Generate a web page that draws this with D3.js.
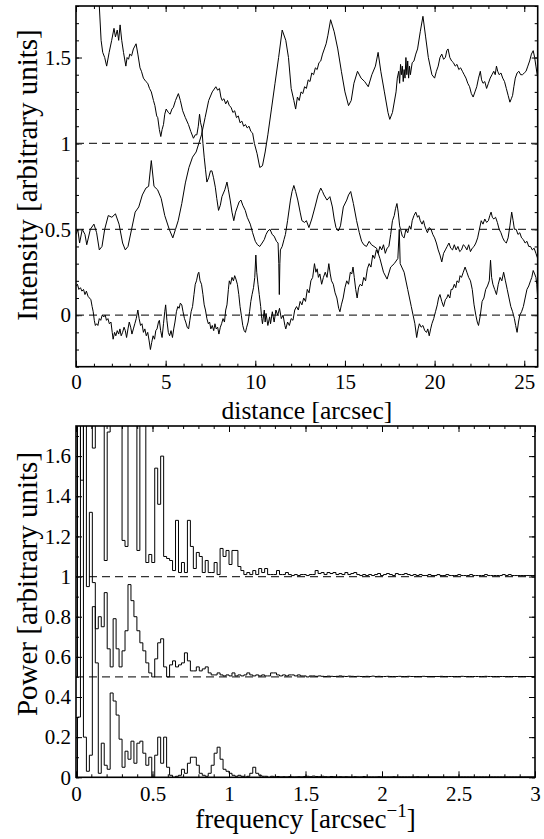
<!DOCTYPE html>
<html><head><meta charset="utf-8">
<script src="https://cdn.jsdelivr.net/npm/d3@7"></script>
<style>
html,body{margin:0;padding:0;background:#fff;}
svg{display:block;}
</style></head>
<body>
<svg id="chart" width="544" height="839"></svg>
<script>
// ---------------- DATA ----------------
// Top panel: intensity profiles, [distance (arcsec), intensity]
const traceStartHigh = [
[1.2,1.95],[1.3,1.8],[1.4,1.6],[1.49,1.53],[1.6,1.5],[1.71,1.45],[1.85,1.53],[1.99,1.6],[2.12,1.67],[2.2,1.62],
[2.3,1.66],[2.38,1.6],[2.46,1.69],[2.55,1.6],[2.65,1.53],[2.78,1.45],[2.85,1.5],[2.93,1.49],[3.0,1.52],[3.1,1.51],
[3.2,1.55],[3.35,1.58],[3.45,1.52],[3.57,1.44],[3.65,1.42],[3.76,1.38],[3.9,1.36],[4.0,1.35],[4.1,1.32],[4.2,1.3],
[4.32,1.25],[4.4,1.22],[4.5,1.16],[4.56,1.15],[4.65,1.08],[4.73,1.04],[4.8,1.08],[4.88,1.11],[4.95,1.17],[5.03,1.2],
[5.15,1.18],[5.25,1.17],[5.35,1.2],[5.43,1.21],[5.55,1.25],[5.71,1.29],[5.82,1.25],[5.95,1.19],[6.1,1.15],[6.27,1.11],
[6.4,1.07],[6.55,1.03],[6.65,1.05],[6.74,1.05],[6.82,1.1],[6.89,1.17],[6.95,1.12],[7.02,1.09],[7.08,1.0],[7.15,0.92],
[7.22,0.85],[7.3,0.775],[7.4,0.8],[7.5,0.84],[7.58,0.84],[7.67,0.8],[7.77,0.745],[7.85,0.68],[7.95,0.61],[8.05,0.64],
[8.14,0.69],[8.3,0.73],[8.42,0.775],[8.5,0.73],[8.6,0.67],[8.7,0.6],[8.8,0.55],[8.9,0.6],[9.0,0.63],[9.1,0.66],
[9.2,0.67],[9.3,0.64],[9.44,0.61],[9.55,0.57],[9.72,0.53],[9.85,0.48],[10.0,0.43],[10.12,0.41],[10.25,0.4],[10.38,0.42],
[10.5,0.44],[10.6,0.47],[10.7,0.49],[10.82,0.5],[10.94,0.47],[11.05,0.46],[11.18,0.43],[11.27,0.42],[11.31,0.3],[11.34,0.12],
[11.37,0.3],[11.4,0.38],[11.5,0.4],[11.6,0.44],[11.68,0.47],[11.8,0.55],[11.96,0.67],[12.05,0.72],[12.15,0.755],[12.25,0.72],
[12.37,0.67],[12.5,0.6],[12.6,0.55],[12.75,0.54],[12.85,0.55],[12.99,0.51],[13.15,0.56],[13.33,0.63],[13.5,0.7],[13.65,0.74],
[13.75,0.72],[13.83,0.7],[14.0,0.67],[14.16,0.69],[14.3,0.63],[14.4,0.56],[14.5,0.51],[14.63,0.49],[14.75,0.52],[14.91,0.63],
[15.1,0.67],[15.2,0.7],[15.32,0.72],[15.47,0.65],[15.65,0.55],[15.8,0.48],[15.93,0.43],[16.05,0.41],[16.2,0.4],[16.35,0.43],
[16.48,0.41],[16.62,0.4],[16.76,0.39],[16.95,0.33],[17.15,0.25],[17.35,0.21],[17.55,0.28],[17.75,0.3],[17.95,0.33],[18.03,0.5],
[18.08,0.3],[18.3,0.25],[18.5,0.15],[18.7,0.05],[18.9,-0.05],[19.0,-0.13],[19.08,-0.08],[19.15,-0.05],[19.25,-0.07],[19.35,-0.06],
[19.45,-0.09],[19.55,-0.1],[19.62,-0.08],[19.7,-0.12],[19.78,-0.08],[19.85,-0.05],[19.95,-0.02],[20.05,0.02],[20.15,0.06],[20.22,0.1],
[20.3,0.12],[20.4,0.08],[20.5,0.05],[20.6,0.09],[20.68,0.1],[20.75,0.12],[20.85,0.1],[20.92,0.15],[21.0,0.15],[21.1,0.18],
[21.18,0.16],[21.25,0.2],[21.35,0.19],[21.42,0.23],[21.5,0.22],[21.6,0.25],[21.7,0.28],[21.8,0.25],[21.9,0.22],[22.0,0.2],
[22.1,0.15],[22.2,0.06],[22.3,0.0],[22.38,-0.04],[22.45,-0.06],[22.55,0.0],[22.65,0.08],[22.75,0.1],[22.85,0.15],[22.95,0.17],
[23.05,0.2],[23.12,0.32],[23.18,0.22],[23.25,0.18],[23.35,0.15],[23.45,0.12],[23.55,0.18],[23.65,0.22],[23.75,0.2],[23.85,0.25],
[23.95,0.2],[24.05,0.15],[24.15,0.1],[24.25,0.05],[24.35,0.02],[24.45,-0.02],[24.52,-0.06],[24.6,-0.1],[24.68,-0.04],[24.75,0.0],
[24.85,0.02],[24.95,0.05],[25.05,0.1],[25.15,0.15],[25.25,0.17],[25.35,0.2],[25.42,0.22],[25.5,0.26],[25.58,0.24],[25.65,0.22],
[25.7,0.18],[25.75,0.1]];

const traceStartMid = [
[0,0.47],[0.1,0.5],[0.2,0.42],[0.35,0.5],[0.5,0.47],[0.6,0.41],[0.8,0.5],[1.0,0.53],[1.15,0.48],[1.3,0.38],
[1.45,0.4],[1.6,0.5],[1.8,0.58],[2.0,0.57],[2.2,0.59],[2.4,0.53],[2.6,0.42],[2.75,0.38],[2.9,0.4],[3.1,0.5],
[3.3,0.6],[3.5,0.63],[3.7,0.7],[3.9,0.74],[4.05,0.75],[4.2,0.9],[4.35,0.75],[4.55,0.73],[4.75,0.68],[4.95,0.58],
[5.2,0.5],[5.4,0.45],[5.55,0.5],[5.7,0.55],[5.9,0.65],[6.1,0.77],[6.3,0.86],[6.5,0.92],[6.7,0.95],[6.85,1.0],
[7.0,1.05],[7.2,1.15],[7.4,1.25],[7.6,1.3],[7.8,1.33],[7.9,1.31],[8.0,1.32],[8.08,1.27],[8.15,1.25],[8.25,1.26],
[8.35,1.23],[8.45,1.25],[8.55,1.22],[8.65,1.21],[8.75,1.18],[8.85,1.19],[8.95,1.15],[9.05,1.16],[9.15,1.12],[9.25,1.13],
[9.35,1.1],[9.45,1.11],[9.55,1.09],[9.65,1.1],[9.75,1.07],[9.85,1.06],[9.95,1.0],[10.1,0.94],[10.25,0.86],[10.4,0.87],
[10.55,0.95],[10.7,1.05],[10.9,1.2],[11.1,1.35],[11.3,1.5],[11.5,1.66],[11.7,1.6],[11.85,1.5],[12.0,1.32],[12.15,1.25],
[12.25,1.2],[12.35,1.27],[12.45,1.25],[12.55,1.3],[12.65,1.29],[12.75,1.33],[12.85,1.32],[12.95,1.37],[13.05,1.36],[13.15,1.41],
[13.25,1.4],[13.35,1.44],[13.45,1.43],[13.55,1.47],[13.65,1.48],[13.75,1.52],[13.85,1.55],[13.95,1.58],[14.05,1.63],[14.2,1.72],
[14.4,1.65],[14.6,1.55],[14.8,1.42],[15.0,1.3],[15.2,1.22],[15.35,1.25],[15.5,1.35],[15.7,1.42],[15.9,1.38],[16.1,1.36],
[16.3,1.33],[16.5,1.4],[16.7,1.45],[16.85,1.53],[17.0,1.42],[17.2,1.3],[17.4,1.18],[17.5,1.14],[17.65,1.18],[17.85,1.3],
[17.92,1.38],[18.0,1.42],[18.05,1.35],[18.1,1.46],[18.15,1.4],[18.2,1.45],[18.25,1.36],[18.3,1.43],[18.35,1.38],[18.4,1.5],
[18.45,1.4],[18.5,1.48],[18.55,1.38],[18.6,1.45],[18.65,1.4],[18.75,1.47],[18.85,1.48],[18.95,1.52],[19.05,1.55],[19.2,1.65],
[19.35,1.74],[19.5,1.62],[19.65,1.5],[19.85,1.4],[20.0,1.38],[20.1,1.42],[20.2,1.45],[20.3,1.5],[20.4,1.52],[20.5,1.49],
[20.6,1.5],[20.68,1.54],[20.75,1.55],[20.85,1.5],[20.95,1.48],[21.05,1.47],[21.15,1.45],[21.25,1.46],[21.35,1.43],[21.45,1.44],
[21.55,1.42],[21.65,1.4],[21.75,1.38],[21.85,1.35],[21.95,1.33],[22.05,1.29],[22.15,1.27],[22.25,1.3],[22.35,1.33],[22.45,1.38],
[22.55,1.42],[22.62,1.37],[22.7,1.35],[22.8,1.36],[22.9,1.32],[23.0,1.35],[23.1,1.38],[23.2,1.4],[23.3,1.42],[23.38,1.4],
[23.45,1.45],[23.52,1.42],[23.6,1.4],[23.7,1.41],[23.8,1.38],[23.9,1.36],[24.0,1.32],[24.1,1.28],[24.2,1.24],[24.28,1.26],
[24.35,1.28],[24.42,1.33],[24.5,1.38],[24.6,1.41],[24.7,1.42],[24.8,1.4],[24.9,1.4],[25.0,1.41],[25.1,1.42],[25.2,1.45],
[25.3,1.48],[25.4,1.52],[25.5,1.54],[25.58,1.5],[25.65,1.45],[25.75,1.38]];

const traceStartLow = [
[0,0.17],[0.08,0.18],[0.16,0.15],[0.25,0.16],[0.33,0.14],[0.42,0.15],[0.5,0.12],[0.58,0.14],[0.67,0.11],[0.75,0.1],
[0.83,0.09],[0.9,0.05],[0.96,0.02],[1.02,-0.03],[1.08,-0.06],[1.15,-0.05],[1.22,-0.06],[1.3,-0.02],[1.38,-0.03],[1.46,0.0],
[1.55,-0.01],[1.63,0.0],[1.7,-0.03],[1.78,-0.02],[1.86,-0.05],[1.95,-0.04],[2.02,-0.1],[2.07,-0.14],[2.15,-0.1],[2.22,-0.12],
[2.3,-0.09],[2.38,-0.11],[2.45,-0.08],[2.52,-0.12],[2.6,-0.1],[2.68,-0.07],[2.75,-0.09],[2.82,-0.13],[2.9,-0.08],[2.97,-0.04],
[3.05,-0.07],[3.12,-0.11],[3.2,-0.08],[3.28,-0.05],[3.36,-0.02],[3.45,0.03],[3.52,-0.02],[3.6,-0.06],[3.68,-0.05],[3.76,-0.1],
[3.84,-0.08],[3.92,-0.12],[4.0,-0.1],[4.08,-0.15],[4.15,-0.2],[4.22,-0.16],[4.3,-0.12],[4.38,-0.14],[4.45,-0.09],[4.52,-0.08],
[4.6,-0.04],[4.65,-0.03],[4.72,-0.09],[4.8,-0.13],[4.88,-0.05],[4.95,0.02],[5.0,0.06],[5.07,-0.03],[5.15,-0.1],[5.22,-0.12],
[5.3,-0.09],[5.38,-0.13],[5.45,-0.08],[5.52,-0.04],[5.6,0.02],[5.68,0.05],[5.75,0.04],[5.82,0.07],[5.9,0.06],[5.97,0.02],
[6.05,-0.02],[6.12,-0.04],[6.2,-0.07],[6.28,-0.08],[6.35,-0.03],[6.42,0.02],[6.5,0.05],[6.58,0.12],[6.65,0.18],[6.72,0.2],
[6.8,0.24],[6.85,0.25],[6.92,0.2],[7.0,0.18],[7.08,0.12],[7.15,0.06],[7.22,0.03],[7.3,-0.02],[7.38,-0.05],[7.45,-0.04],
[7.52,-0.08],[7.6,-0.06],[7.68,-0.09],[7.75,-0.05],[7.82,-0.08],[7.9,-0.07],[7.97,-0.11],[8.05,-0.07],[8.12,-0.05],[8.2,-0.02],
[8.28,-0.04],[8.35,0.03],[8.42,0.06],[8.5,0.15],[8.55,0.2],[8.62,0.18],[8.7,0.22],[8.78,0.2],[8.85,0.23],[8.92,0.21],
[9.0,0.18],[9.08,0.12],[9.15,0.05],[9.22,0.0],[9.3,-0.06],[9.38,-0.09],[9.45,-0.1],[9.52,-0.07],[9.6,-0.04],[9.68,0.02],
[9.75,0.08],[9.82,0.12],[9.9,0.16],[9.97,0.22],[10.03,0.35],[10.08,0.25],[10.15,0.18],[10.22,0.12],[10.3,0.05],[10.36,-0.02],
[10.4,-0.05],[10.5,0.03],[10.55,-0.04],[10.6,0.01],[10.7,-0.06],[10.8,-0.01],[10.85,-0.05],[10.95,0.02],[11.05,-0.04],[11.15,0.03],
[11.25,0.0],[11.35,0.04],[11.45,-0.02],[11.55,0.0],[11.65,-0.06],[11.7,-0.08],[11.8,-0.04],[11.9,-0.06],[12.0,-0.02],[12.1,-0.03],
[12.2,0.03],[12.3,0.05],[12.4,0.03],[12.5,0.08],[12.6,0.06],[12.7,0.1],[12.8,0.08],[12.9,0.15],[13.0,0.13],[13.1,0.2],
[13.2,0.22],[13.3,0.3],[13.38,0.25],[13.45,0.27],[13.52,0.22],[13.6,0.24],[13.7,0.18],[13.8,0.22],[13.9,0.25],[14.0,0.22],
[14.1,0.3],[14.18,0.24],[14.25,0.2],[14.35,0.18],[14.45,0.13],[14.55,0.1],[14.65,0.04],[14.72,0.02],[14.8,0.06],[14.9,0.1],
[15.0,0.16],[15.1,0.2],[15.2,0.18],[15.3,0.25],[15.38,0.24],[15.45,0.28],[15.52,0.22],[15.6,0.15],[15.68,0.1],[15.76,0.16],
[15.85,0.18],[15.95,0.17],[16.05,0.22],[16.15,0.2],[16.25,0.27],[16.35,0.3],[16.45,0.28],[16.55,0.35],[16.65,0.33],[16.75,0.38],
[16.85,0.36],[16.95,0.4],[17.05,0.38],[17.15,0.41],[17.25,0.36],[17.35,0.39],[17.45,0.4],[17.55,0.47],[17.65,0.55],[17.75,0.58],
[17.82,0.62],[17.9,0.65],[17.97,0.6],[18.05,0.52],[18.1,0.5],[18.2,0.46],[18.3,0.45],[18.4,0.5],[18.5,0.48],[18.6,0.52],
[18.68,0.5],[18.75,0.55],[18.85,0.58],[18.95,0.6],[19.05,0.57],[19.12,0.58],[19.2,0.55],[19.3,0.53],[19.38,0.55],[19.45,0.52],
[19.52,0.5],[19.6,0.48],[19.7,0.51],[19.8,0.5],[19.9,0.47],[20.0,0.45],[20.1,0.42],[20.2,0.38],[20.3,0.35],[20.4,0.31],
[20.5,0.36],[20.6,0.38],[20.7,0.4],[20.8,0.42],[20.9,0.39],[21.0,0.38],[21.1,0.41],[21.2,0.38],[21.3,0.4],[21.4,0.37],
[21.5,0.38],[21.6,0.41],[21.7,0.4],[21.8,0.38],[21.9,0.41],[22.0,0.37],[22.1,0.39],[22.2,0.4],[22.3,0.42],[22.4,0.45],
[22.5,0.5],[22.6,0.55],[22.7,0.53],[22.8,0.56],[22.9,0.54],[23.0,0.55],[23.08,0.58],[23.15,0.6],[23.22,0.57],[23.3,0.56],
[23.4,0.57],[23.5,0.54],[23.6,0.5],[23.7,0.48],[23.8,0.45],[23.9,0.43],[24.0,0.42],[24.1,0.45],[24.2,0.52],[24.3,0.6],
[24.38,0.55],[24.45,0.5],[24.55,0.5],[24.65,0.47],[24.75,0.48],[24.85,0.45],[24.95,0.44],[25.05,0.42],[25.15,0.43],[25.25,0.4],
[25.35,0.4],[25.45,0.38],[25.55,0.39],[25.65,0.36],[25.75,0.33]];

const intensityRefLevels = [0, 0.5, 1];

// Bottom panel: power spectra, one value per frequency bin (bin width = freqStep)
const freqStep = 1 / 51.5;
const powerOffsets = [1, 0.5, 0];
const powerTop = [
0,2,0.48,2,2,2,0.64,2,2,2,
0.08,0.72,2,2,2,2,0.18,0.15,2,2,
2,0.13,2,2,0.07,0.11,0.07,0.54,0.36,0.6,
0.1,0.09,0.08,0.03,0.28,0.02,0.07,0.02,0.28,0.15,
0.04,0.12,0.1,0.02,0.08,0.02,0.02,0.07,0.01,0.14,
0.1,0.13,0.06,0.13,0.13,0.05,0.03,0.01,0.02,0.01,
0.03,0.01,0.04,0.02,0.04,0.01,0.01,0.01,0.03,0.01,
0.01,0.02,0.01,0.005,0.01,0.005,0.01,0.01,0.005,0.01,
0.01,0.03,0.015,0.02,0.01,0.02,0.015,0.02,0.01,0.015,
0.01,0.02,0.01,0.015,0.02,0.01,0.005,0.01,0.005,0.01,
0.005,0.01,0.015,0.005,0.01,0.015,0.01,0.005,0.015,0.01,
0.01,0.015,0.01,0.005,0.01,0.005,0.01,0.005,0.005,0.01,
0.005,0.005,0.01,0.005,0.005,0.01,0.005,0.005,0.005,0.01,
0.005,0.005,0.005,0.01,0.005,0.005,0.005,0.005,0.01,0.005,
0.005,0.005,0.005,0.005,0.01,0.005,0.01,0.005,0.005,0.005,
0.005,0.005,0.005,0.005,0.005,0.005];
const powerMid = [
0,2,2,2,0.45,0.82,0.47,0.24,0.3,0.25,
0.42,0.14,0.05,0.29,0.14,0.05,0.13,0.23,0.46,0.38,
0.3,0.23,0.17,0.13,0.07,0.02,0.0,0.09,0.17,0.19,
0.05,0.0,0.06,0.08,0.05,0.06,0.07,0.12,0.08,0.03,
0.03,0.05,0.03,0.04,0.05,0.02,0.01,0.01,0.02,0.01,
0.005,0.01,0.005,0.02,0.005,0.01,0.005,0.01,0.02,0.01,
0.005,0.01,0.005,0.01,0.005,0.005,0.02,0.02,0.01,0.005,
0.01,0.005,0.01,0.01,0.005,0.01,0.005,0.005,0.0,0.005,
0.005,0.003,0.005,0.003,0.002,0.004,0.003,0.002,0.003,0.005,
0.003,0.002,0.004,0.003,0.002,0.003,0.002,0.002,0.003,0.002,
0.004,0.002,0.003,0.002,0.002,0.003,0.002,0.002,0.002,0.003,
0.002,0.002,0.003,0.002,0.002,0.002,0.002,0.003,0.002,0.002,
0.002,0.002,0.002,0.003,0.002,0.002,0.002,0.002,0.002,0.002,
0.003,0.002,0.002,0.002,0.002,0.002,0.002,0.002,0.003,0.002,
0.002,0.002,0.002,0.002,0.002,0.002,0.002,0.002,0.002,0.002,
0.002,0.002,0.002,0.002,0.002,0.002];
const powerBottom = [
0,0.3,2,0.2,0.03,0.11,0.85,0.57,0.02,0.17,
0.06,0.04,0.42,0.38,0.31,0.19,0.05,0.13,0.09,0.18,
0.07,0.17,0.18,0.12,0.06,0.1,0.0,0.11,0.2,0.07,
0.2,0.05,0.01,0.0,0.005,0.01,0.04,0.02,0.07,0.1,
0.1,0.06,0.02,0.01,0.005,0.02,0.06,0.12,0.15,0.09,
0.04,0.03,0.02,0.01,0.005,0.01,0.005,0.0,0.005,0.02,
0.05,0.02,0.01,0.005,0.005,0.0,0.005,0.002,0.004,0.002,
0.003,0.002,0.004,0.002,0.002,0.003,0.002,0.004,0.005,0.003,
0.006,0.004,0.003,0.005,0.003,0.002,0.004,0.003,0.002,0.003,
0.002,0.003,0.002,0.002,0.003,0.002,0.002,0.004,0.002,0.002,
0.002,0.002,0.003,0.002,0.002,0.002,0.002,0.003,0.002,0.002,
0.002,0.002,0.002,0.002,0.002,0.003,0.002,0.002,0.002,0.002,
0.002,0.002,0.002,0.002,0.002,0.002,0.002,0.002,0.002,0.002,
0.002,0.002,0.002,0.002,0.002,0.002,0.002,0.002,0.002,0.002,
0.002,0.002,0.002,0.002,0.002,0.002,0.002,0.002,0.002,0.002,
0.002,0.002,0.002,0.002,0.002,0.002];
const powerRefLevels = [0.5, 1];

// Tick values / labels
const topXTicks = [0, 5, 10, 15, 20, 25];
const topXTickLabels = ["0", "5", "10", "15", "20", "25"];
const topYTicks = [0, 0.5, 1, 1.5];
const topYTickLabels = ["0", "0.5", "1", "1.5"];
const botXTicks = [0, 0.5, 1, 1.5, 2, 2.5, 3];
const botXTickLabels = ["0", "0.5", "1", "1.5", "2", "2.5", "3"];
const botYTicks = [0, 0.2, 0.4, 0.6, 0.8, 1, 1.2, 1.4, 1.6];
const botYTickLabels = ["0", "0.2", "0.4", "0.6", "0.8", "1", "1.2", "1.4", "1.6"];

// ---------------- DRAW ----------------
const FONT = "'Liberation Serif'";
const svg = d3.select("#chart").attr("font-family", FONT);
svg.append("rect").attr("width", 544).attr("height", 839).attr("fill", "#fff");

const TICK_FONT = 21;

function panel(opts) {
  const { left, right, top, bottom, xDomain, yDomain, xMajor, xMajorLabels, yMajor, yMajorLabels, xMinorStep, yMinorStep, id, xPad } = opts;
  const x = d3.scaleLinear().domain(xDomain).range([left, right]);
  const y = d3.scaleLinear().domain(yDomain).range([bottom, top]);
  const g = svg.append("g");
  svg.append("clipPath").attr("id", id).append("rect")
    .attr("x", left).attr("y", top).attr("width", right - left).attr("height", bottom - top);

  const xMinor = d3.range(Math.ceil(xDomain[0] / xMinorStep), Math.floor(xDomain[1] / xMinorStep + 1e-6) + 1).map(i => i * xMinorStep);
  const yMinor = d3.range(Math.ceil(yDomain[0] / yMinorStep - 1e-6), Math.floor(yDomain[1] / yMinorStep + 1e-6) + 1).map(i => i * yMinorStep);

  const axes = g.append("g").attr("class", "axes");
  const mk = (axisFn, scale, vals, size, tr) => {
    const a = axes.append("g").attr("transform", tr)
      .call(axisFn(scale).tickValues(vals).tickSize(size).tickFormat(""));
    a.select(".domain").remove();
    a.selectAll("line").attr("stroke", "#000").attr("stroke-width", 1);
    return a;
  };
  mk(d3.axisBottom, x, xMinor, -3, `translate(0,${bottom})`);
  mk(d3.axisTop, x, xMinor, -3, `translate(0,${top})`);
  mk(d3.axisLeft, y, yMinor, -3, `translate(${left},0)`);
  mk(d3.axisRight, y, yMinor, -3, `translate(${right},0)`);
  mk(d3.axisTop, x, xMajor, -6, `translate(0,${top})`);
  mk(d3.axisRight, y, yMajor, -6, `translate(${right},0)`);

  const xa = axes.append("g").attr("transform", `translate(0,${bottom})`)
    .call(d3.axisBottom(x).tickValues(xMajor).tickSize(-6).tickPadding(xPad)
      .tickFormat((d, i) => xMajorLabels[i]));
  xa.attr("font-family", FONT).attr("font-size", TICK_FONT);
  xa.select(".domain").remove();
  xa.selectAll("line").attr("stroke", "#000").attr("stroke-width", 1);
  xa.selectAll("text").attr("font-size", TICK_FONT).attr("font-family", FONT).attr("fill", "#000");

  const ya = axes.append("g").attr("transform", `translate(${left},0)`)
    .call(d3.axisLeft(y).tickValues(yMajor).tickSize(-6).tickPadding(5)
      .tickFormat((d, i) => yMajorLabels[i]));
  ya.attr("font-family", FONT).attr("font-size", TICK_FONT);
  ya.select(".domain").remove();
  ya.selectAll("line").attr("stroke", "#000").attr("stroke-width", 1);
  ya.selectAll("text").attr("font-size", TICK_FONT).attr("font-family", FONT).attr("fill", "#000");

  return { x, y, g, frame: () => g.append("rect").attr("x", left).attr("y", top)
      .attr("width", right - left).attr("height", bottom - top)
      .attr("fill", "none").attr("stroke", "#000").attr("stroke-width", 1.6) };
}

// ---- Top panel ----
const T = panel({ id: "clipTop", left: 76, right: 537.7, top: 6, bottom: 366.7,
  xDomain: [0, 25.75], yDomain: [-0.3, 1.8],
  xMajor: topXTicks, xMajorLabels: topXTickLabels, yMajor: topYTicks, yMajorLabels: topYTickLabels,
  xMinorStep: 1, yMinorStep: 0.1, xPad: 7 });

const topData = T.g.append("g").attr("clip-path", "url(#clipTop)");
topData.selectAll("line.ref").data(intensityRefLevels).join("line").attr("class", "ref")
  .attr("x1", T.x(0)).attr("x2", T.x(25.75))
  .attr("y1", d => T.y(d)).attr("y2", d => T.y(d))
  .attr("stroke", "#333").attr("stroke-width", 1.2).attr("stroke-dasharray", "8,5");
const lineTop = d3.line().x(d => T.x(d[0])).y(d => T.y(d[1]));
[traceStartHigh, traceStartMid, traceStartLow].forEach(tr => {
  topData.append("path").attr("d", lineTop(tr)).attr("fill", "none")
    .attr("stroke", "#000").attr("stroke-width", 1).attr("stroke-linejoin", "round");
});
T.frame();

svg.append("text").attr("x", 306.9).attr("y", 419).attr("text-anchor", "middle")
  .attr("font-size", 25.5).attr("font-family", FONT).text("distance [arcsec]");
svg.append("text").attr("transform", "translate(37,175) rotate(-90)").attr("text-anchor", "middle")
  .attr("font-size", 29).attr("font-family", FONT).text("Intensity [arbitrary units]");

// ---- Bottom panel ----
const B = panel({ id: "clipBot", left: 76, right: 535, top: 426, bottom: 777.3,
  xDomain: [0, 3], yDomain: [0, 1.75],
  xMajor: botXTicks, xMajorLabels: botXTickLabels, yMajor: botYTicks, yMajorLabels: botYTickLabels,
  xMinorStep: 0.1, yMinorStep: 0.1, xPad: 9 });

const botData = B.g.append("g").attr("clip-path", "url(#clipBot)");
botData.selectAll("line.ref").data(powerRefLevels).join("line").attr("class", "ref")
  .attr("x1", B.x(0)).attr("x2", B.x(3))
  .attr("y1", d => B.y(d)).attr("y2", d => B.y(d))
  .attr("stroke", "#333").attr("stroke-width", 1.2).attr("stroke-dasharray", "8,5");
const stepLine = d3.line().curve(d3.curveStep);
[powerTop, powerMid, powerBottom].forEach((arr, s) => {
  const pts = arr.map((v, k) => [B.x(k * freqStep), B.y(v + powerOffsets[s])]);
  botData.append("path").attr("d", stepLine(pts)).attr("fill", "none")
    .attr("stroke", "#000").attr("stroke-width", 1);
});
B.frame();

const fl = svg.append("text").attr("x", 305.5).attr("y", 828).attr("text-anchor", "middle")
  .attr("font-size", 27).attr("font-family", FONT);
fl.append("tspan").text("frequency [arcsec");
fl.append("tspan").attr("dy", -11).attr("font-size", 19).text("\u22121");
fl.append("tspan").attr("dy", 11).text("]");
svg.append("text").attr("transform", "translate(37,584) rotate(-90)").attr("text-anchor", "middle")
  .attr("font-size", 29).attr("font-family", FONT).text("Power [arbitrary units]");
</script>
</body></html>
